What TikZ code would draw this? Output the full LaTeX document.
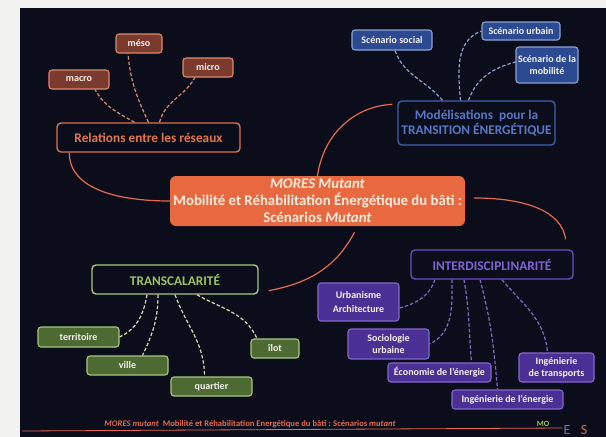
\documentclass[tikz,border=0pt]{standalone}
\usepackage{fontspec}
\setmainfont{Carlito}
\definecolor{bgnavy}{HTML}{0B0D1B}
\definecolor{paper}{HTML}{F2F2F0}
\definecolor{trunkred}{HTML}{E66A4E}
\definecolor{coremid}{HTML}{E8693F}
\definecolor{coretext}{HTML}{FCEBDD}
\definecolor{orline}{HTML}{D9724F}
\definecolor{ortext}{HTML}{E3764E}
\definecolor{orfill}{HTML}{7A3A2D}
\definecolor{ortwig}{HTML}{DC8A6E}
\definecolor{blline}{HTML}{3F5FAA}
\definecolor{bltext}{HTML}{5678C6}
\definecolor{blfill}{HTML}{2C4A92}
\definecolor{bltwig}{HTML}{8CA2D2}
\definecolor{grline}{HTML}{A9C680}
\definecolor{grtext}{HTML}{9CC266}
\definecolor{grfill}{HTML}{4E6A33}
\definecolor{grtwig}{HTML}{D8DBB2}
\definecolor{puline}{HTML}{6A4FC0}
\definecolor{putext}{HTML}{7E64D2}
\definecolor{pufill}{HTML}{4A2F94}
\definecolor{putwig}{HTML}{8068CE}
\definecolor{leaftext}{HTML}{F4F1EA}
\tikzset{
	boxwh/.style 2 args={minimum width=#1pt, minimum height=#2pt},
	headbox/.style={draw, line width=1.4pt, rounded corners=4pt, fill=bgnavy, inner sep=1pt, align=center, font=\bfseries\fontsize{13.3}{15}\selectfont},
	leafbox/.style={draw, line width=1.1pt, rounded corners=3pt, inner sep=1pt, align=center, text=leaftext, font=\bfseries\fontsize{10}{12}\selectfont},
	twig/.style={line width=1.2pt, dash pattern=on 3.5pt off 2pt},
	trunk/.style={line width=1.2pt, color=trunkred},
}

\begin{document}
\begin{tikzpicture}[x=1pt, y=-1pt]
		%%%%% START %%%%%
		
		\useasboundingbox (0, 0) rectangle (606, 437);
		\fill[paper] (0, 0) rectangle (606, 437);
		\fill[bgnavy] (20, 8) rectangle (606, 437);
		
		\node[rounded corners=6pt, fill=coremid, boxwh={295}{50}, inner sep=1pt, align=center, text=coretext, font=\bfseries\fontsize{14.8}{17}\selectfont] (mores) at (317.5, 201) {\textit{MORES Mutant}\\Mobilité et Réhabilitation Énergétique du bâti :\\Scénarios \textit{Mutant}};
		
		% reseaux
		\node[headbox, draw=orline, text=ortext, boxwh={183}{29}] (relations) at (148.5, 137.5) {Relations entre les réseaux};
		\node[leafbox, draw=ortwig, fill=orfill, boxwh={60}{19}] (macro) at (79, 79.5) {macro};
		\node[leafbox, draw=ortwig, fill=orfill, boxwh={46}{19}] (meso) at (139, 43.5) {méso};
		\node[leafbox, draw=ortwig, fill=orfill, boxwh={50}{19}] (micro) at (208, 67.5) {micro};
		\draw[twig, ortwig] ([xshift=-14]relations.north) to[out=150, in=-60] ([xshift=16]macro.south);
		\draw[twig, ortwig] (relations.north) to[out=115, in=-85] ([xshift=-11]meso.south);
		\draw[twig, ortwig] ([xshift=11]relations.north) to[out=75, in=-120] ([xshift=-13]micro.south);
		
		% modelisations
		\node[headbox, draw=blline, text=bltext, boxwh={157}{44}] (model) at (476.5, 123) {Modélisations\ \ pour la\\TRANSITION ÉNERGÉTIQUE};
		\node[leafbox, draw=bltwig, fill=blfill, boxwh={80}{20}] (social) at (392, 40) {Scénario social};
		\node[leafbox, draw=bltwig, fill=blfill, boxwh={78}{18}] (urbain) at (521, 31) {Scénario urbain};
		\node[leafbox, draw=bltwig, fill=blfill, boxwh={62}{36}] (mobilite) at (547, 65) {Scénario de la\\mobilité};
		\draw[twig, bltwig] ([xshift=-34]model.north) to[out=130, in=-70] ([xshift=3]social.south);
		\draw[twig, bltwig] ([xshift=-16]model.north) to[out=95, in=200] (urbain.west);
		\draw[twig, bltwig] ([xshift=-8]model.north) to[out=70, in=195] ([yshift=3]mobilite.west);
		
		% transcalarite
		\node[headbox, draw=grline, text=grtext, boxwh={166}{29}] (transcal) at (175, 279.5) {TRANSCALARITÉ};
		\node[leafbox, draw=grline, fill=grfill, boxwh={81}{20}] (territoire) at (78.5, 337) {territoire};
		\node[leafbox, draw=grline, fill=grfill, boxwh={81}{19}] (ville) at (127.5, 365.5) {ville};
		\node[leafbox, draw=grline, fill=grfill, boxwh={81}{19}] (quartier) at (211.5, 386.5) {quartier};
		\node[leafbox, draw=grline, fill=grfill, boxwh={48}{19}] (ilot) at (275, 348.5) {îlot};
		\draw[twig, grtwig] ([xshift=-28]transcal.south) to[out=-100, in=25] (territoire.east);
		\draw[twig, grtwig] ([xshift=-17]transcal.south) to[out=-90, in=65] ([xshift=15]ville.north);
		\draw[twig, grtwig] (transcal.south) to[out=-70, in=90] ([xshift=-7]quartier.north);
		\draw[twig, grtwig] ([xshift=22]transcal.south) to[out=-30, in=115] ([xshift=-18]ilot.north);
		
		% interdisciplinarite
		\node[headbox, draw=puline, text=putext, boxwh={162}{29}] (inter) at (492, 264.5) {INTERDISCIPLINARITÉ};
		\node[leafbox, draw=putwig, fill=pufill, boxwh={81}{38}] (urba) at (358.5, 302) {Urbanisme\\[2pt]Architecture};
		\node[leafbox, draw=putwig, fill=pufill, boxwh={81}{30}] (socio) at (388.5, 344) {Sociologie\\urbaine};
		\node[leafbox, draw=putwig, fill=pufill, boxwh={103}{19}] (eco) at (439.5, 372.5) {Économie de l'énergie};
		\node[leafbox, draw=putwig, fill=pufill, boxwh={111}{19}] (inge) at (507.5, 399.5) {Ingénierie de l'énergie};
		\node[leafbox, draw=putwig, fill=pufill, boxwh={75}{29}] (transp) at (556.5, 367.5) {Ingénierie\\de transports};
		\draw[twig, putwig] ([xshift=-57]inter.south) to[out=-110, in=15] ([yshift=-6]urba.east);
		\draw[twig, putwig] ([xshift=-40]inter.south) to[out=-90, in=25] (socio.east);
		\draw[twig, putwig] ([xshift=-28]inter.south) to[out=-80, in=95] ([xshift=32]eco.north);
		\draw[twig, putwig] ([xshift=-12]inter.south) to[out=-75, in=95] ([xshift=-10]inge.north);
		\draw[twig, putwig] ([xshift=10]inter.south) to[out=-50, in=95] ([xshift=-9]transp.north);
		
		% trunks
		\draw[trunk] ([xshift=13]relations.south west) .. controls +(0, 38) and +(-48, 0) .. (mores.west);
		\draw[trunk] (mores.north) .. controls +(6, -42) and +(-38, 2) .. ([xshift=-5, yshift=-4]model.north west);
		\draw[trunk] ([xshift=9, yshift=3]mores.east) .. controls +(52, 0) and +(-4, -28) .. ([xshift=-8, yshift=10]inter.north east);
		\draw[trunk] ([xshift=37, yshift=-6]mores.south) .. controls +(-18, 34) and +(42, -8) .. ([xshift=10, yshift=4]transcal.south east);
		
		% footer
		\draw[line width=0.8pt, color=trunkred] (22, 431) -- (562, 428);
		\node[text=trunkred, font=\bfseries\fontsize{8.6}{10}\selectfont] (footer) at (250, 424.5) {\textit{MORES mutant}\ \ Mobilité et Réhabilitation Energétique du bâti : Scénarios \textit{mutant}};
		\node[text=grtext, font=\bfseries\fontsize{8}{9}\selectfont] (mo) at (543, 424) {MO};
		\node[anchor=base, inner sep=0pt, text=bltext, font=\fontsize{14}{14}\selectfont] (logoe) at (567, 434) {E};
		\node[anchor=base, inner sep=0pt, text=trunkred, font=\fontsize{14}{14}\selectfont] (logos) at (584, 434) {S};
		
		%%%%% END %%%%%
	\end{tikzpicture}
\end{document}
